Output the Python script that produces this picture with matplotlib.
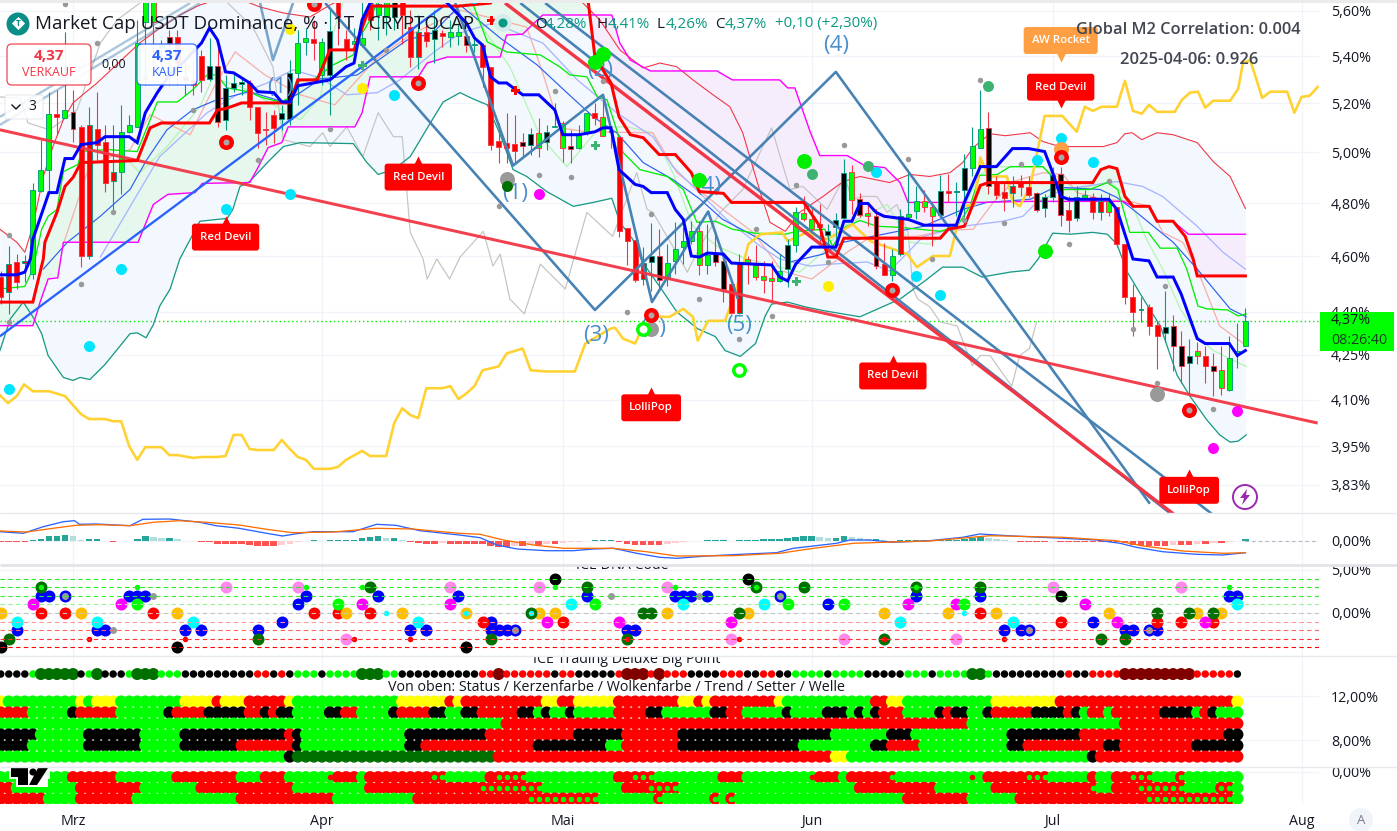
#!/usr/bin/env python3
import numpy as np
import matplotlib
matplotlib.use('Agg')
import matplotlib.pyplot as plt
from matplotlib.patches import Circle, FancyBboxPatch, Polygon, Rectangle
from matplotlib.ticker import NullFormatter, NullLocator

plt.rcParams['font.family'] = ['Open Sans', 'DejaVu Sans']

# candles, one per day, day 0 = 1 March
candle_day = list(range(-9, 147))
candle_top = [4.524,4.571,4.579,4.583,4.853,4.931,5.157,5.157,5.173,5.165,
  5.103,5.111,5.095,5.043,4.923,5.083,5.111,5.458,5.645,5.645,
  5.45,5.484,5.484,5.312,5.299,5.401,5.359,5.359,5.265,5.286,
  5.291,5.286,5.186,5.095,5.153,5.161,5.329,5.458,5.480,5.476,
  5.463,5.511,5.64,5.476,5.467,5.480,5.63,5.63,5.64,5.64,
  5.64,5.528,5.506,5.506,5.515,5.502,5.506,5.506,5.489,5.454,
  5.449,5.355,5.047,5.039,5.035,5.043,5.075,5.079,5.083,5.107,
  5.119,5.027,5.071,5.161,5.161,5.144,5.091,5.063,4.705,4.659,
  4.575,4.601,4.601,4.575,4.626,4.656,4.693,4.693,4.605,4.608,
  4.583,4.499,4.579,4.590,4.568,4.528,4.520,4.546,4.641,4.765,
  4.761,4.738,4.719,4.693,4.734,4.919,4.923,4.815,4.761,4.750,
  4.571,4.601,4.750,4.757,4.807,4.807,4.784,4.849,4.849,4.849,
  4.939,5.027,5.095,5.099,4.880,4.845,4.865,4.880,4.861,4.838,
  4.822,4.908,4.915,4.772,4.822,4.830,4.822,4.807,4.807,4.784,
  4.645,4.452,4.410,4.417,4.354,4.347,4.350,4.282,4.245,4.262,
  4.248,4.214,4.198,4.241,4.265,4.368]
candle_bot = [4.452,4.470,4.506,4.575,4.535,4.849,4.931,5.144,5.140,5.095,
  4.601,4.601,5.031,4.880,4.888,4.923,5.083,5.103,5.552,5.552,
  5.44,5.458,5.371,5.299,5.278,5.299,5.303,5.124,5.132,5.265,
  5.282,5.186,5.079,5.091,5.099,5.136,5.136,5.329,5.463,5.458,
  5.320,5.320,5.573,5.428,5.454,5.449,5.56,5.58,5.573,5.573,
  5.58,5.397,5.397,5.467,5.476,5.489,5.484,5.489,5.449,5.449,
  5.355,5.031,5.023,5.019,5.007,5.027,5.031,5.019,5.043,5.103,
  5.019,5.015,5.019,5.079,5.140,5.067,5.083,4.693,4.656,4.513,
  4.517,4.579,4.513,4.517,4.583,4.634,4.656,4.568,4.568,4.579,
  4.481,4.396,4.396,4.575,4.524,4.513,4.510,4.510,4.553,4.641,
  4.738,4.701,4.708,4.678,4.708,4.742,4.811,4.753,4.750,4.564,
  4.531,4.531,4.608,4.746,4.769,4.784,4.750,4.753,4.838,4.845,
  4.853,4.939,5.019,4.865,4.830,4.819,4.838,4.861,4.830,4.772,
  4.780,4.822,4.753,4.734,4.742,4.819,4.765,4.765,4.765,4.645,
  4.452,4.399,4.406,4.350,4.316,4.326,4.279,4.211,4.224,4.248,
  4.214,4.194,4.138,4.131,4.255,4.282]
candle_hi = [4.546,4.637,4.608,4.605,4.880,5.051,5.249,5.257,5.506,5.257,
  5.111,5.186,5.249,5.111,5.111,5.194,5.153,5.560,5.66,5.66,
  5.47,5.515,5.515,5.384,5.384,5.428,5.48,5.454,5.320,5.329,
  5.307,5.299,5.186,5.165,5.173,5.194,5.384,5.515,5.524,5.560,
  5.480,5.604,5.66,5.515,5.524,5.64,5.66,5.66,5.66,5.66,
  5.66,5.604,5.582,5.56,5.604,5.515,5.56,5.537,5.502,5.493,
  5.449,5.355,5.119,5.161,5.153,5.079,5.099,5.140,5.111,5.202,
  5.128,5.091,5.111,5.161,5.202,5.236,5.099,5.063,4.705,4.659,
  4.634,4.723,4.701,4.645,4.727,4.708,4.731,4.731,4.719,4.689,
  4.608,4.499,4.608,4.601,4.641,4.583,4.583,4.608,4.663,4.784,
  4.826,4.788,4.795,4.719,4.761,4.975,4.951,4.838,4.803,4.776,
  4.648,4.626,4.776,4.923,4.865,4.853,4.803,4.908,4.915,4.884,
  4.995,5.103,5.257,5.165,4.904,4.884,4.904,4.908,4.904,4.845,
  4.834,4.943,4.943,4.826,4.865,4.853,4.841,4.834,4.841,4.784,
  4.645,4.499,4.452,4.427,4.368,4.474,4.389,4.333,4.303,4.296,
  4.279,4.258,4.279,4.316,4.361,4.413]
candle_lo = [4.427,4.392,4.481,4.506,4.517,4.845,4.834,5.071,5.140,5.043,
  4.560,4.590,4.971,4.845,4.761,4.834,5.079,5.103,5.278,5.342,
  5.35,5.278,5.278,5.236,5.236,5.249,5.295,5.103,5.091,5.249,
  5.236,5.132,5.019,5.031,5.039,5.091,5.111,5.194,5.406,5.384,
  5.278,5.153,5.449,5.384,5.449,5.441,5.515,5.471,5.493,5.515,
  5.454,5.355,5.346,5.441,5.371,5.441,5.441,5.449,5.419,5.419,
  5.269,5.011,4.959,4.959,4.959,4.983,4.991,4.983,5.011,5.103,
  4.963,4.959,5.015,5.071,5.111,5.067,5.019,4.671,4.568,4.506,
  4.495,4.474,4.474,4.492,4.535,4.571,4.645,4.531,4.535,4.564,
  4.434,4.392,4.392,4.499,4.513,4.467,4.438,4.506,4.488,4.615,
  4.731,4.693,4.645,4.634,4.652,4.738,4.757,4.746,4.712,4.553,
  4.531,4.510,4.601,4.738,4.738,4.765,4.637,4.750,4.803,4.750,
  4.746,4.904,5.019,4.834,4.815,4.769,4.784,4.826,4.822,4.765,
  4.746,4.803,4.712,4.689,4.731,4.815,4.738,4.734,4.750,4.634,
  4.427,4.316,4.364,4.320,4.204,4.296,4.194,4.154,4.112,4.218,
  4.154,4.112,4.115,4.128,4.207,4.282]
candle_fill = ('rrrrgggrgk' 'rrrrrggggg' 'gkrrrrkkkk' 'krrrrkkggr' 'gkrrggrggk'
  'rrrrkrggkg' 'rrrrrkkgkg' 'gkggrgrrrr' 'rkkggggggk' 'krrgggggkg'
  'ggrkkkgkgk' 'rgrggggkrk' 'kggkrrrrrk' 'kkkrkgrrgr' 'rrrrrkkkkg' 'rkgggg')
candle_wick = ('rtrttttrtr' 'rtrrtttttr' 'trrtrrtrtt' 'trrrrttttr' 'ttrrttrttt'
  'rrtrtrttrt' 'rrrrrrtrtt' 'rrttrrrrrr' 'ttrttttrtr' 'rrtrrrrttt'
  'rrrtttrrrr' 'rttttrrtrt' 'tttrrrtrrr' 'ttrrttrtrr' 'rrtrrtrrtr' 'rrrttt')

# thick lines
blue_day = [-9.1,-7,-6,-5.3,-5,-3,-2,-1,0,1,3,4,7,8,9,10.5,12,14,16,17,18,19,20,22,23,25,26,27,28,32,34,35,36,37,39.5,45.7,49,50,51,52,53,54,56,58,60,61,63,65,66,67,68,70,71,72,74,75,76,77,78,79,81,82,87,88,89,90,92,95,96,97,98,99,100,101,104,106,110,111,113,115,117,119,121,122,123,124,129,130,132,134,135,137,138,140,141,144,145,146]
blue_val = [4.532,4.532,4.542,4.59,4.663,4.841,4.841,4.975,4.975,5.031,5.039,5.063,5.063,5.039,5.161,5.245,5.320,5.384,5.458,5.524,5.471,5.333,5.329,5.286,5.249,5.245,5.206,5.206,5.274,5.299,5.355,5.371,5.560,5.636,5.67,5.67,5.546,5.480,5.449,5.312,5.286,5.286,5.236,5.236,5.173,5.071,5.071,5.083,5.099,5.099,4.931,4.873,4.865,4.841,4.841,4.776,4.738,4.601,4.597,4.612,4.608,4.575,4.568,4.524,4.510,4.571,4.634,4.634,4.731,4.731,4.799,4.799,4.765,4.750,4.738,4.716,4.716,4.803,4.943,4.943,5.015,5.015,5.003,4.919,4.826,4.815,4.815,4.776,4.590,4.583,4.524,4.524,4.463,4.306,4.289,4.289,4.248,4.265]
red_day = [-9.1,-5,-3.7,-3.5,-2,-1,0,1,8,9.6,11,17,18,19,21,27,28,30.4,32,35,37,48,52,53,64,65,67,68,69.4,71,73,75,77,78,81,82,91,93,94,95,96,108,109,111,113,114,127,128,129,130,131,132,134,135,137,138.5,139.5,140,146]
red_val = [4.434,4.434,4.59,4.652,4.765,4.865,4.900,4.959,4.967,5.099,5.119,5.119,5.173,5.178,5.202,5.202,5.299,5.299,5.428,5.428,5.622,5.622,5.636,5.69,5.69,5.397,5.286,5.144,5.071,5.059,4.991,4.991,4.919,4.845,4.838,4.803,4.803,4.712,4.597,4.597,4.667,4.667,4.701,4.712,4.869,4.880,4.880,4.931,4.943,4.935,4.826,4.788,4.788,4.731,4.731,4.674,4.590,4.528,4.528]

# thin lines
upper_day = [-9.1,-7,-6,-5,-3.7,-2.5,-1.2,0,1.2,3,5,8.3,10.5,13.3,15.8,19.6,23.3,26.2,29.5,32,34.5,61.9,63.5,65.6,68.1,71,73.1,75.2,77.2,79.7,81.8,83.4,85.6,86.8,88.7,90.5,93.4,95.9,98,101.7,104.2,106.7,109.2,110.8,112.1,114.2,116.1,119.2,120.8,122.9,128.3,130,131,131.9,133.1,135,137,140,142,144.1,146]
upper_val = [4.701,4.652,4.615,4.712,4.904,5.023,5.132,5.202,5.236,5.286,5.350,5.458,5.515,5.582,5.627,5.67,5.618,5.591,5.573,5.627,5.67,5.67,5.636,5.560,5.428,5.350,5.371,5.355,5.299,5.236,5.186,5.079,4.841,4.727,4.693,4.765,4.826,4.884,4.904,4.880,4.912,4.904,4.919,4.959,5.019,5.075,5.067,5.079,5.043,5.023,5.023,5.039,5.075,5.079,5.051,5.079,5.071,5.039,4.963,4.904,4.780]
lower_day = [-9.1,-7.8,-6.2,-5,-3.9,-3.1,-1.2,0,0.9,2.1,4,7.1,8,9.1,10,10.8,12.1,13.3,15.8,19.2,19.9,20.8,22,24.2,26.2,28.3,34.9,36.6,38,39.9,42,44.5,46.1,48.2,49.8,51.6,53.2,54.8,56.5,59,62.3,64.8,67.1,68.1,69.7,70.9,73.1,75.2,77.8,80,81.2,83.1,85,86.2,87,89,91.2,93.6,98,103,105.9,108.3,110.8,113.2,116.7,119.1,120.2,122,124.2,127,128.8,130,131.3,133.3,135.4,137.5,139.1,141.2,142.8,144.1,145.1,146.1]
lower_val = [4.265,4.375,4.434,4.382,4.323,4.248,4.174,4.164,4.174,4.167,4.218,4.323,4.326,4.309,4.354,4.420,4.481,4.590,4.731,4.742,4.776,4.865,4.884,4.959,5.023,5.039,5.035,4.959,4.912,4.931,4.983,5.119,5.206,5.245,5.219,5.194,5.071,4.931,4.904,4.845,4.788,4.803,4.819,4.727,4.663,4.579,4.488,4.399,4.340,4.313,4.265,4.245,4.289,4.385,4.427,4.434,4.417,4.403,4.382,4.445,4.506,4.560,4.560,4.524,4.542,4.549,4.590,4.686,4.682,4.689,4.682,4.645,4.542,4.445,4.350,4.181,4.112,4.034,3.986,3.963,3.966,3.986]
span_day = [-9.1,-5,-4.1,-3.1,-1.9,-1.2,8.1,10,11.8,15.2,16.1,22,22.9,24.3,26,26.8,35.1,36,37,43,44.1,46.6,53.2,54,56,56.9,58.5,67.1,68.1,69.4,71.9,80.2,82.1,88,89,89.9,91.8,93,96.4,98.6,101.1,103,104,112.7,119.2,130.8,132,134.1,135.1,137,138.9,146]
span_val = [4.351,4.351,4.434,4.517,4.521,4.652,4.652,4.795,4.834,4.841,4.877,4.880,4.931,5.019,5.039,5.103,5.103,5.161,5.312,5.312,5.371,5.397,5.397,5.493,5.497,5.528,5.582,5.582,5.458,5.384,5.337,5.337,5.299,5.299,5.265,5.265,5.083,4.987,4.987,4.947,4.939,4.880,4.803,4.803,4.807,4.807,4.788,4.788,4.731,4.731,4.682,4.682]
green_day = [-9.1,-6,-5,-3.9,-3.1,-2,-1.2,0.6,1.1,4.2,8,9.2,10.5,13,14.9,16.7,17.9,19.2,21.8,23.7,25.8,27,28.3,29.9,32.4,34.9,35.7,37,38.2,49.4,51.6,54,58.2,60.6,61.9,64,65.3,66.5,67.7,68.5,70.6,74,76,77.7,80,82.1,84.9,88.7,90.2,93.6,94.6,96.1,98,100.1,103,108,110.1,111.7,112.9,115.1,116.7,120.8,121.9,123.2,126.6,128.8,130.1,131.6,133.9,135.4,137.5,138.7,140.1,141.2,143.8,145.1,146.1]
green_val = [4.481,4.49,4.553,4.701,4.750,4.776,4.923,4.951,5.003,5.011,5.003,5.099,5.206,5.206,5.257,5.320,5.320,5.265,5.249,5.223,5.206,5.223,5.299,5.299,5.363,5.406,5.484,5.560,5.67,5.67,5.463,5.419,5.406,5.355,5.320,5.312,5.227,5.215,5.091,4.999,4.931,4.904,4.853,4.727,4.731,4.701,4.686,4.682,4.693,4.701,4.637,4.708,4.734,4.712,4.708,4.693,4.712,4.788,4.908,4.912,4.943,4.943,4.904,4.853,4.853,4.880,4.853,4.689,4.689,4.630,4.630,4.553,4.420,4.410,4.406,4.385,4.392]
ma_day = [-3.7,-0.7,3.4,7.1,9.2,11.7,14.9,17.9,22,26.2,28.3,30.8,35.4,41.6,44.8,48.2,53.2,57.8,61.5,64.8,67.7,71,74.7,78.1,80.9,85.6,89.3,93.4,95.9,105.9,110.8,113.8,119.2,121.7,123.3,127.9,130,132,135,137,140,144.1,146.1]
ma_val = [4.553,4.652,4.750,4.853,4.971,5.091,5.173,5.215,5.249,5.206,5.245,5.303,5.320,5.471,5.502,5.627,5.480,5.363,5.245,5.144,5.079,4.959,4.892,4.815,4.738,4.663,4.579,4.608,4.652,4.712,4.776,4.803,4.815,4.853,4.861,4.853,4.822,4.776,4.701,4.652,4.553,4.410,4.382]
peri_day = [3.4,10.8,16.7,20.4,24.2,27.4,30.8,34.1,37.9,40.7,44.5,48.2,52.3,58.5,62.8,67.7,72.2,74.7,81.4,85.6,88,91.8,94.3,98.9,101.7,105.9,110.8,115.8,118.3,120,123.3,130,133.2,135.7,140,143.2,146]
peri_val = [4.597,4.983,5.161,5.236,5.286,5.342,5.307,5.236,5.245,5.299,5.406,5.502,5.546,5.458,5.299,5.161,5.063,4.943,4.738,4.637,4.590,4.564,4.571,4.579,4.546,4.674,4.712,4.731,4.750,4.803,4.853,4.884,4.865,4.826,4.712,4.615,4.553]
pink_day = [-1.2,2.1,7.1,9.6,14.6,17.7,20.2,23.9,28.3,32.6,37.6,42,48.2,56.5,58.5,60.6,64,72.2,75.2,81.4,84.7,88.3,92,96.4,99.3,105.1,108.8,112.1,114.6,117.1,120.8,123.3,125,128.3,131.6,134.1,135.7,138.2,140,142.8,146.1]
pink_val = [4.645,4.951,5.011,5.153,5.071,5.278,5.419,5.320,5.236,5.194,5.384,5.493,5.604,5.528,5.329,5.099,5.083,5.079,4.919,4.765,4.689,4.546,4.517,4.615,4.671,4.674,4.697,4.701,4.803,4.884,4.919,4.912,4.841,4.815,4.807,4.788,4.689,4.652,4.553,4.350,4.282]
mint_day = [5.9,8.3,11.7,15.8,17.4,21.2,28.3,30.8,32.4,33.9,48.2,54.4,58.2,61.5,65.6,69,72.2,74.7,77.2,80.2,83.9,90.5,93.4,95.9,101.4,104.2,106.7,110.1,112.9,115.1,120.8,125,129.1,131.6,133.7,135.7,137.9,140.3,142,146.1]
mint_val = [5.0,4.919,5.023,5.186,5.307,5.265,5.132,5.227,5.502,5.67,5.67,5.355,5.063,4.943,5.103,5.103,5.079,4.919,4.712,4.637,4.590,4.542,4.615,4.712,4.795,4.652,4.645,4.727,4.912,4.943,4.939,4.853,4.884,4.815,4.663,4.553,4.410,4.306,4.265,4.211]
grey_day = [-9.1,-6.6,-5.6,-2.9,0.5,3.4,5.5,9.6,18.3,22.4,24.9,26.2,29.5,31.1,32,34.1,36.1,38,39.9,41,42,43.6,44.1,45.3,46.9,48.2,51.1,52.3,53.2,54.4,56.2,58.2,61.3,64,67.2,70.2,71.5,72.2,74.7,76.5,78.1,80.6,83.4,87,89.3,90.9,93.9,96.1,97,98.4,100.1,101.4,102.6,104,104.6,105.2,106.7,108,110.1,112,113,114.2,116.9,117.9,119.1,120]
grey_val = [5.227,5.223,5.119,5.091,5.173,5.458,5.560,5.67,5.67,5.528,5.355,5.051,5.023,5.079,5.023,5.103,4.983,5.161,5.063,5.063,4.689,4.590,4.517,4.590,4.517,4.597,4.693,4.564,4.608,4.445,4.392,4.571,4.481,4.765,4.674,4.919,4.776,4.765,4.637,4.542,4.637,4.765,4.853,5.099,4.853,4.865,4.776,4.904,4.815,4.826,4.826,4.765,4.795,4.689,4.481,4.445,4.417,4.364,4.350,4.214,4.248,4.248,4.145,4.248,4.272,4.364]
m2_day = [-9.1,-8.1,-7,-6.1,-5,-3,-1,1,2,4,5,6,7,8,9,11,12,13,15,16,18,19,20,21,22,23,25,26,27,28,29,30,32,33,34,36,37,39,40,41,42,43,44,46,47,48,49,50,51,53,54,56,57,59,61,62.5,63.8,66.9,67.5,68.5,70,71,72.9,74.3,76,77.2,77.8,79.1,81.2,82.1,83.1,84.1,85.6,88.3,89,91.4,93.9,97.1,99.3,103.9,105.1,107.1,109.2,110.7,112.3,113,114,116.3,117,117.9,119.2,121,123.2,125,126,127,128.1,130,131,132,133.1,134,135,137.2,138.1,139.1,140.1,141,142,144.1,145.1,145.7,146.6,148.1,149.1,151.2,152.1,153,154,155]
m2_val = [4.115,4.089,4.112,4.151,4.128,4.128,4.112,4.053,4.037,4.037,4.030,4.030,3.950,3.907,3.947,3.947,3.922,3.922,3.913,3.916,3.916,3.919,3.986,3.986,3.941,3.938,3.938,3.970,3.941,3.916,3.907,3.879,3.879,3.885,3.907,3.935,3.919,3.919,4.024,4.072,4.050,4.040,4.138,4.138,4.145,4.102,4.121,4.145,4.198,4.211,4.255,4.272,4.198,4.194,4.194,4.194,4.289,4.340,4.344,4.306,4.289,4.350,4.382,4.382,4.410,4.382,4.299,4.368,4.368,4.438,4.528,4.645,4.682,4.689,4.656,4.689,4.663,4.719,4.656,4.608,4.560,4.601,4.601,4.788,4.795,4.979,4.904,4.904,4.807,4.788,4.865,5.148,5.148,5.083,5.186,5.169,5.186,5.186,5.295,5.169,5.157,5.194,5.165,5.165,5.215,5.245,5.249,5.182,5.211,5.211,5.261,5.371,5.384,5.223,5.249,5.249,5.161,5.227,5.232,5.269]

# drawn trend lines: (day, value) pairs
trend_red = [(-9.1,5.091),(155,4.024)]
trend_red_down = [(53.8,5.636),(137.1,3.74)]
trend_blue = [(-9.1,4.314),(46.3,5.627)]
wave_a = [(31.4,5.636),(65,4.406),(95,5.333),(134.1,3.772)]
wave_b = [(47.6,5.636),(54.8,4.947),(66,5.236),(72.1,4.434),(79.1,4.768),(82.8,4.445)]
wave_v = [(23.3,5.636),(24.9,5.384),(27.4,5.636)]
chan_a = [(58.8,5.636),(141.9,3.74)]
chan_b = [(55.7,5.636),(136.8,3.74)]
chan_c = [(-9.1,5.144),(14.6,5.636)]
chan_d = [(-9.1,5.111),(15.8,5.636)]

# main panel signals
sig_cyan = [(-8,4.135),(2,4.28),(6,4.555),(19,4.776),(27,4.834),(40,5.236),(50,5.66),(100,4.923),(105,4.528),(108,4.459),(120,4.971),(123,5.059),(127,4.963)]
sig_yellow = [(27,5.52),(36,5.265),(94,4.49)]
sig_magenta = [(58,4.834),(142,3.945),(145,4.062)]
sig_lime = [(65,5.376),(66,5.41),(78,4.889),(91,4.967),(121,4.62)]
sig_sea = [(92,4.912),(99,4.947),(114,5.274)]
sig_small = [(-1,5.63),(3,5.458),(9,5.31),(15,5.173),(5,4.768),(23,4.97),(32,5.095),(39,5.428),(-8,4.68),(-8,4.365),(1,4.5),(66,5.295),(60,5.254),(58,4.908),(62,4.9),(72,4.76),(53,4.79),(69,4.4),(78,4.445),(87,4.385),(83,4.305),(85,4.7),(90,4.87),(94,4.58),(96,5.03),(104,4.975),(107,4.59),(111,4.735),(113,5.299),(118,4.955),(116,4.725),(124,4.645),(129,4.888),(136,4.49),(132,4.34),(135,4.155),(142,4.07)]
sig_big_grey = [(54,4.895),(72,4.34),(135,4.12)]
sig_ring = [(19,5.04),(43,5.285),(30,5.63),(72,4.39),(102,4.478),(123,4.98),(139,4.065)]
sig_lime_ring = [(71,4.34),(83,4.2)]
sig_plus_green = [(36,5.363),(65,5.029),(90,4.51)]
sig_plus_red = [(55,5.255),(52,5.56)]

wave_text = ['(1)', '(2)', '(3)', '(4)', '(4)', '(5)', '(1)', '(1)']
wave_text_day = [55, 65.6, 65.1, 95, 79.1, 83, 72.2, 25.8]
wave_text_val = [4.838, 5.34, 4.316, 5.445, 4.865, 4.350, 4.340, 5.265]

tag_text = ['Red Devil', 'Red Devil', 'Red Devil', 'LolliPop', 'LolliPop', 'Red Devil', 'AW Rocket']
tag_day = [19, 43, 102.1, 72, 139, 123, 123]
tag_val = [4.745, 4.979, 4.245, 4.138, 3.873, 5.186, 5.384]
tag_up = [True, True, True, True, True, False, False]
tag_colour = ['#ff0000', '#ff0000', '#ff0000', '#ff0000', '#ff0000', '#ff0000', '#ff9f43']

price_ticks = [5.6, 5.4, 5.2, 5.0, 4.8, 4.6, 4.4, 4.25, 4.1, 3.95, 3.83]
last_price = 4.366

# oscillator
macd_hist = [-1,-1,-1,-1,1,2,5,5,6,5,1,2,2,-.3,-1,0,0,2,5,4,3,3,2,-.3,-.3,-.5,-1,-3,-3,-3,-3,-4,-5,-5,-5,-4,-3,-1,0,1,0,1,1,1,1,3,4,5,3,3,1,-1,-2,-3,-3,-2,-3,-3,
  -3,-3,-3,-5,-6,-6,-5,-5,-4,-4,-3,-3,-2,-1,-.5,0,1,1,1,-1,-3,-4,-4,-4,-4,-3,-2,-1,0,0,1,1,1,0,1,1,1,2,2,2,3,4,5,5,4,3,3,5,4,3,2,2,1,-.5,1,1,1,1,
  1,1,1,1,2,3,4,3,2,1,0,-.5,-.5,-1,-1,-.3,-1,-1,-1,-1,-1,-1,-1,-1,-2,-4,-5,-5,-5,-5,-4,-4,-4,-3,-3,-2,-2,-1,0,2]
macd_day = [-9.1,-6.2,-3.7,-1.2,.2,.8,2.9,7.1,8.7,12,15.8,17.8,20.7,24.1,26.1,28.2,29.9,34.9,37.8,40.2,43.2,48.1,50.7,52.8,55.3,59,62.3,64.8,67.3,70.2,73.1,75.2,78.9,83.9,87.6,89.7,95.1,96.7,99.2,102.1,106.7,110.8,112.9,117.1,123.3,127.4,130.4,132.4,135.7,139.9,143.2,146]
macd_val = [9.3,7.7,14.3,19.3,20.3,16.7,17,15.3,21.7,22,18.7,15.3,12.7,7.7,5,7.7,9.3,9.3,16.7,15.7,10.3,6,3.3,-4,-8,-9.7,-9.7,-8,-7.3,-12.3,-16.3,-17.3,-15,-13,-11.7,-7.3,-2.3,1,1,-1.3,.3,3.7,7,5,2.7,1,-2.3,-6.3,-10.7,-13.3,-14,-11.7]
signal_day = [-9.1,-5.8,-2.5,.4,3.3,7.1,10,13.3,16.6,20.7,24.1,27.4,32.4,37.8,42.3,48.1,50.7,53.6,57.3,61.1,67.3,71.4,75.2,82.2,88,92.2,97.2,102.1,106.7,114.2,123.3,129.9,133.3,138.2,143.2,146]
signal_val = [10,9,12.7,15.7,16.3,15.3,18.7,20.3,18.7,16,11.7,8.3,9,12.7,12,7.7,6.7,1,-4,-7.3,-7.3,-10.7,-15,-14.7,-12.3,-7.3,-2.3,-1,0,5.3,3.7,.3,-5,-10,-12.3,-11.7]

# ICE DNA Code dots: (day, level)
dna_blue = [(-7,-2),(-4,2),(-3,2),(3,-2),(4,-2),(7,2),(8,2),(9,2),(14,-2),(16,-2),(23,-2),(26,-1),(28,1),(29,2),(38,2),(42,-2),(44,-2),(48,2),(52,-1),(52,-2),(53,-2),(54,-2),(64,2),(69,-2),(70,-2),(75,2),(76,2),(77,2),(79,2),(94,1),(105,2),(113,2),(116,-2),(118,-2),(127,-1),(131,-2),(132,-2),(135,-2),(144,2),(145,2)]
dna_blue_ring = [(-1,2),(55,-2),(88,2),(119,-2),(134,-2)]
dna_red = [(-4,0),(-1,0),(10,0),(30,0),(33,0),(37,0),(51,-1),(61,-1),(113,0),(123,-1),(135,-1),(138,-1),(142,-1)]
dna_orange = [(-9,0),(1,0),(13,0),(34,0),(41,0),(49,0),(58,0),(60,0),(74,0),(84,0),(101,0),(109,0),(115,0),(129,0),(140,0),(143,0)]
dna_cyan = [(-7,-1),(3,-1),(15,-1),(43,-1),(62,1),(76,1),(86,1),(103,-1),(117,-1),(145,1)]
dna_magenta = [(-5,1),(6,1),(36,1),(47,1),(59,-1),(68,-1),(82,-1),(104,1),(110,1),(126,1),(130,-1),(141,-1)]
dna_pink = [(19,3),(28,3),(34,-3),(47,3),(58,3),(74,3),(82,-3),(96,-3),(110,-3),(122,3),(138,3)]
dna_dkgreen = [(-8,-3),(23,-3),(37,3),(52,-3),(64,3),(71,0),(72,0),(83,0),(91,3),(113,3),(128,-3),(131,-3),(135,0),(139,0),(142,0)]
dna_dk_lime = [(-4,3),(85,3),(105,3)]
dna_dk_red = [(69,-3),(101,-3)]
dna_dk_cyan = [(57,0)]
dna_lime = [(8,1),(33,1),(65,1),(89,1),(96,1),(111,1)]
dna_black = [(-9,-4),(13,-4),(49,-4),(60,4),(84,4),(123,2)]
dna_small_lime = [(8,3),(29,3),(36,3),(60,3),(75,3),(144,3)]
dna_small_red = [(2,-3),(14,-3),(35,-3),(42,-3),(83,-3),(116,-3)]
dna_small_grey = [(5,-2),(10,2),(67,2),(78,2)]
dna_small_cyan = [(39,0),(111,0)]
dna_levels = [4, 3, 2, 1, 0, -1, -2, -3, -4]
dna_level_colour = ['#22ee22', '#22ee22', '#33ee33', '#99f099', '#c4c4c4', '#ff9999', '#ff6666', '#ff3333', '#ff0000']

# dot rows, written as colour + run length, first dot on day -9
big_point = 'k4 g1 D5 k1 g1 D1 k3 g1 D3 g3 k9 r2 k1 r1 k1 g3 k1 g4 D3 g2 k10 r2 M1 r6 k1 r2 k5 r1 M3 r1 M1 r3 k4 r3 k2 r2 k2 g4 k1 g4 k5 g3 k1 g4 D2 g1 k9 r1 k2 r4 M9 r5 k1'
row_status = 'y1 g9 y1 g1 y3 g8 y4 r1 y3 r5 y1 g13 y6 r1 y1 r10 y2 r2 y5 r8 y2 r1 y1 r8 y1 g11 r2 y2 g11 y8 r22 y1'
row_candle = 'r4 g5 k1 r5 g6 k1 r4 k5 r2 k1 r1 k2 g4 k2 r2 g4 k1 r4 k2 g2 k2 r5 k2 g1 k1 g2 k1 g5 r4 k2 g6 k2 r2 g5 k1 g4 k3 g1 k1 g1 k1 r3 g4 k1 r1 k2 g2 k1 r5 k4 r1 k1 g1 r2 g1 r6 k4 g1 r1 k1 g3'
row_cloud = 'g63 r58 g19 r15'
row_trend = 'k5 g6 k7 g5 k13 r1 k1 g13 k10 r11 k6 r7 k19 g7 k3 g12 k9 r18 k2'
row_setter = 'k4 g7 k7 g5 k7 r7 k1 g13 k2 r14 k9 g2 r7 k15 g9 k2 r4 g11 k2 r10 k2 r9 k6'
row_wave = 'g36 k1 D25 r42 y2 g30 k1 r18'
low_a = 'g9 r6 g7 r8 g3 r3 g6 r3 g1 r10 g5 r5 g11 r5 g8 r3 g9 r3 g1 r6 g11 r8 g5 r1 g2 r5 g3 r1 g7'
low_b = 'r2 g8 r8 g7 r12 g9 r22 g10 r7 g22 r10 g7 r13 g2 r9 g4 r2 g1'
low_c = 'r6 g4 r7 g13 r12 g10 r23 g7 r1 g6 r1 g1 r1 g21 r8 g6 r27 g1'
low_a_lime = [45,46,53,54,55,56,70,71,72,102,119,120,121,132,133,134,138]
low_a_red = [32,92,112]
low_b_lime = [51,52,53,54,55,56,57,58,72,73,74,75,127,133,134,135,136,137,138,143,144]
low_c_lime = [57,58,59,60,61,62,63,64,65,73,80,82,134,135,136,137,138,139,140,141,142,143,144]

month_days = [0, 31, 61, 92, 122, 153]
month_names = ['Mrz', 'Apr', 'Mai', 'Jun', 'Jul', 'Aug']

W, H, PLOT_W = 1397, 831, 1319
TEAL, RED = '#089981', '#f23645'
GRID = '#f0f3fa'
TXT = '#131722'
DOT = {'g': '#00ff00', 'r': '#ff0000', 'k': '#000000', 'y': '#ffff00', 'D': '#007000', 'M': '#800000'}


def px(v):
  return v * 0.72


def dots(ax, pts, colour, d, z=4):
  xs = [p[0] for p in pts]
  ys = [p[1] for p in pts]
  ax.scatter(xs, ys, s=px(d) ** 2, c=colour, linewidths=0, zorder=z)


def panel(top, bottom):
  ax = fig.add_axes([0, 1 - bottom / H, PLOT_W / W, (bottom - top) / H])
  ax.set_xlim(-73 / 8.03, (PLOT_W - 73) / 8.03)
  for s in ax.spines.values():
    s.set_visible(False)
  ax.set_xticks(month_days)
  ax.xaxis.set_tick_params(length=0, labelbottom=False)
  ax.grid(True, color=GRID, lw=0.9, zorder=0)
  ax.set_axisbelow(True)
  ax.yaxis.tick_right()
  ax.yaxis.set_tick_params(length=0, labelsize=10.3, labelcolor=TXT, pad=8.5)
  return ax


def pct(v):
  return f'{v:.2f}'.replace('.', ',') + '%'


def expand(rle):
  out = []
  for run in rle.split():
    out += [DOT[run[0]]] * int(run[1:])
  return out


def dot_row(ax, rle, y, d=12.2):
  cols = expand(rle)
  ax.scatter(np.arange(-9, -9 + len(cols)), [y] * len(cols), s=px(d) ** 2, c=cols, linewidths=0, zorder=3)


fig = plt.figure(figsize=(W / 100, H / 100), dpi=100, facecolor='white')

# main price panel
ax = panel(3, 513)
ax.set_yscale('log')
ax.set_ylim(3.744, 5.636)
ax.yaxis.set_major_locator(matplotlib.ticker.FixedLocator(price_ticks))
ax.set_yticklabels([pct(v) for v in price_ticks])
ax.yaxis.set_minor_locator(NullLocator())
ax.yaxis.set_minor_formatter(NullFormatter())

grid_day = np.linspace(-9.1, 146, 1500)
up_i = np.interp(grid_day, upper_day, upper_val)
lo_i = np.interp(grid_day, lower_day, lower_val)
span_i = np.interp(grid_day, span_day, span_val)
red_i = np.interp(grid_day, red_day, red_val)
ax.fill_between(grid_day, lo_i, up_i, color='#f2f8fe', lw=0, zorder=1)
ax.fill_between(grid_day, span_i, red_i, where=red_i >= span_i, color='#e6f7ee', lw=0, zorder=1.1)
ax.fill_between(grid_day, span_i, red_i, where=red_i < span_i, color='#f5edfc', lw=0, zorder=1.1)

ax.axhline(last_price, color='#00ee00', lw=1, ls=(0, (1, 2)), zorder=2)
ax.plot(grey_day, grey_val, color='#c4c4c4', lw=px(1.2), zorder=2)
ax.plot(mint_day, mint_val, color='#b5f5b5', lw=px(1.3), zorder=2)
ax.plot(pink_day, pink_val, color='#f8b0aa', lw=px(1.3), zorder=2)
ax.plot(peri_day, peri_val, color='#aab4ff', lw=px(1.3), zorder=2)
ax.plot(ma_day, ma_val, color='#2f62f0', lw=px(1.2), zorder=2)
ax.plot(upper_day, upper_val, color='#f23645', lw=px(1.1), zorder=2)
ax.plot(lower_day, lower_val, color='#1b9a85', lw=px(1.3), zorder=2)
ax.plot(span_day, span_val, color='#ff00ff', lw=px(1.4), zorder=2.1)
ax.plot(green_day, green_val, color='#00ee00', lw=px(1.3), zorder=2.1)
ax.plot(m2_day, m2_val, color='#ffd232', lw=px(2.6), zorder=2.2)

# candles
for i, d in enumerate(candle_day):
  wc = TEAL if candle_wick[i] == 't' else RED
  ax.vlines(d, candle_lo[i], candle_hi[i], color=wc, lw=px(1.1), zorder=3)
  ax.bar(d, candle_top[i] - candle_bot[i], bottom=candle_bot[i], width=0.62,
         color=DOT[candle_fill[i]], edgecolor=wc, lw=px(0.9), zorder=3.1)

for line, c, w, a in [(trend_blue, '#2962ff', 2.3, 1), (wave_a, '#4682b4', 2.6, 1), (wave_b, '#4682b4', 2.6, 1),
                      (wave_v, '#4682b4', 2.6, 0.7), (chan_a, '#4682b4', 2.6, 1), (chan_b, '#4682b4', 2.6, 1),
                      (chan_c, '#4682b4', 2.4, 0.45), (chan_d, '#4682b4', 2.4, 0.45),
                      (trend_red, '#f23645', 3, 0.95), (trend_red_down, '#f23645', 3.4, 1)]:
  ax.plot([p[0] for p in line], [p[1] for p in line], color=c, lw=px(w), alpha=a, zorder=3.5, solid_capstyle='butt')

ax.plot(red_day, red_val, color='#ff0000', lw=px(3), zorder=4, solid_joinstyle='miter')
ax.plot(blue_day, blue_val, color='#0000ff', lw=px(3), zorder=4.1, solid_joinstyle='miter')

for t, d, v in zip(wave_text, wave_text_day, wave_text_val):
  ax.text(d, v, t, color='#4a8ecb', fontsize=16, ha='center', va='center', zorder=3.6, clip_on=True)

dots(ax, sig_small, '#999999', 5.5, 5)
dots(ax, sig_big_grey, '#999999', 15, 5)
dots(ax, sig_cyan, '#00e5ff', 11, 5)
dots(ax, sig_yellow, '#ffee00', 11, 5)
dots(ax, sig_magenta, '#ff00ff', 11, 5)
dots(ax, sig_lime, '#00ee00', 15, 5)
dots(ax, sig_sea, '#3cb371', 11, 5)
dots(ax, [(54, 4.865)], '#007000', 11, 5.1)
dots(ax, [(123, 5.015)], '#ff9f43', 15, 5)
dots(ax, sig_ring, '#ff0000', 15, 5.2)
dots(ax, sig_ring, '#a8a8a8', 6, 5.4)
dots(ax, sig_lime_ring, '#00ff00', 15, 5.2)
dots(ax, sig_lime_ring, 'white', 8, 5.3)
ax.scatter([p[0] for p in sig_plus_green], [p[1] for p in sig_plus_green], marker='P', s=px(9) ** 2, c='#3cb371', linewidths=0, zorder=5)
ax.scatter([p[0] for p in sig_plus_red], [p[1] for p in sig_plus_red], marker='P', s=px(9) ** 2, c='#ff0000', linewidths=0, zorder=5)

for t, d, v, up, c in zip(tag_text, tag_day, tag_val, tag_up, tag_colour):
  off = -17 if up else 17
  ax.annotate(t, xy=(d, v), xytext=(0, off * 0.72 * 1.15), textcoords='offset points', ha='center', va='center',
              color='white', fontsize=8.2, fontweight='semibold', zorder=7,
              bbox=dict(boxstyle='round,pad=0.7,rounding_size=0.25', fc=c, ec='none'))
  ax.scatter([d], [v], marker='^' if up else 'v', s=px(12) ** 2, c=c, linewidths=0, zorder=6.9,
             transform=ax.transData + matplotlib.transforms.ScaledTranslation(0, -4.5 / 100 if up else 4.5 / 100, fig.dpi_scale_trans))

# oscillator panel
ax2 = panel(513, 565)
ax2.set_ylim(-24, 28)
ax2.set_yticks([0])
ax2.set_yticklabels([pct(0)])
ax2.hlines(0, 146, 155.1, color='#b2b5be', lw=0.8, ls=(0, (3, 3)), zorder=1)
for i, v in enumerate(macd_hist):
  prev = macd_hist[i - 1] if i else v
  if v >= 0:
    c = '#26a69a' if v >= prev else '#b2dfdb'
  else:
    c = '#ff5252' if v <= prev else '#ffcdd2'
  ax2.bar(candle_day[i], v, width=0.82, color=c, lw=0, zorder=2)
ax2.plot(macd_day, macd_val, color='#2962ff', lw=px(1.3), zorder=3)
ax2.plot(signal_day, signal_val, color='#ff6d00', lw=px(1.3), zorder=3)

# DNA panel
ax3 = panel(565, 656)
ax3.set_ylim(-5.0, 5.58)
ax3.set_yticks([5, 0])
ax3.set_yticklabels([pct(5), pct(0)])
for lv, c in zip(dna_levels, dna_level_colour):
  ax3.axhline(lv, color=c, lw=0.8, ls=(0, (4, 3)), zorder=5)
dots(ax3, dna_blue, '#0000ff', 12)
dots(ax3, dna_blue_ring, '#0000ff', 12)
dots(ax3, dna_blue_ring, '#999999', 7, 4.1)
dots(ax3, dna_red, '#ff0000', 12)
dots(ax3, dna_orange, '#ffbf00', 12)
dots(ax3, [(49, 0)], '#00ffff', 5.5, 4.1)
dots(ax3, dna_cyan, '#00ffff', 12)
dots(ax3, dna_magenta, '#ff00ff', 12)
dots(ax3, dna_pink, '#ff88ee', 12)
dots(ax3, dna_dkgreen, '#007000', 12)
dots(ax3, dna_dk_lime, '#007000', 12)
dots(ax3, dna_dk_lime, '#00ff00', 5.5, 4.1)
dots(ax3, dna_dk_red, '#007000', 12)
dots(ax3, dna_dk_red, '#ff0000', 5.5, 4.1)
dots(ax3, dna_dk_cyan, '#007000', 12)
dots(ax3, dna_dk_cyan, '#00ffff', 5.5, 4.1)
dots(ax3, dna_lime, '#00ff00', 12)
dots(ax3, dna_black, '#000000', 12)
dots(ax3, dna_small_lime, '#00ff00', 5.5)
dots(ax3, dna_small_red, '#ff0000', 5.5)
dots(ax3, dna_small_grey, '#999999', 7)
dots(ax3, dna_small_cyan, '#00ffff', 5.5)
ax3.text(622 / PLOT_W, 5.5, 'ICE DNA Code', transform=ax3.get_yaxis_transform(), ha='center', va='center',
         fontsize=10.3, color=TXT, clip_on=True)

# status rows
ax4 = panel(656, 767)
ax4.set_ylim(5.55, 15.64)
ax4.set_yticks([12, 8])
ax4.set_yticklabels([pct(12), pct(8)])
bp = expand(big_point)
bp_size = [px(12) ** 2 if c in (DOT['D'], DOT['M']) else px(7.5) ** 2 for c in bp]
ax4.scatter(np.arange(-9, -9 + len(bp)), [14] * len(bp), s=bp_size, c=bp, linewidths=0, zorder=3)
for y, rle in zip([11.5, 10.5, 9.5, 8.5, 7.5, 6.5], [row_status, row_candle, row_cloud, row_trend, row_setter, row_wave]):
  dot_row(ax4, rle, y)
ax4.text(627 / PLOT_W, 15.3, 'ICE Trading Deluxe Big Point', transform=ax4.get_yaxis_transform(), ha='center', va='center',
         fontsize=10.3, color=TXT, clip_on=True)
ax4.text(617 / PLOT_W, 12.8, 'Von oben: Status / Kerzenfarbe / Wolkenfarbe / Trend / Setter / Welle',
         transform=ax4.get_yaxis_transform(), ha='center', va='center', fontsize=10.3, color=TXT, zorder=5)

# last rows with the date axis
ax5 = panel(767, 804)
ax5.set_ylim(-3.0, 0.45)
ax5.set_yticks([0])
ax5.set_yticklabels([pct(0)])
ax5.xaxis.set_tick_params(labelbottom=True, labelsize=10.3, labelcolor=TXT, pad=7)
ax5.set_xticks(month_days)
ax5.set_xticklabels(month_names)
for y, rle in zip([-0.5, -1.5, -2.5], [low_a, low_b, low_c]):
  dot_row(ax5, rle, y)
dots(ax5, [(d, -0.5) for d in low_a_lime], '#00ff00', 5.5)
dots(ax5, [(d, -0.5) for d in low_a_red], '#ff0000', 5.5)
dots(ax5, [(d, -1.5) for d in low_b_lime], '#00ff00', 5.5)
dots(ax5, [(d, -2.5) for d in low_c_lime], '#00ff00', 5.5)

# chart furniture on top, in pixels
top = fig.add_axes([0, 0, 1, 1], facecolor='none')
top.set_xlim(0, W)
top.set_ylim(H, 0)
top.axis('off')
top.add_patch(Rectangle((0, 0), W, 3, fc='#ebebeb', ec='none'))
top.add_patch(Rectangle((1320, 556), 77, 8, fc='white', ec='none'))
top.add_patch(Rectangle((1320, 758), 77, 8.5, fc='white', ec='none'))
top.hlines(513, 0, W, color='#e8e9ee', lw=1)
top.hlines(565, 0, W, color='#e3e4e8', lw=2)
top.hlines(656, 0, W, color='#e8e9ee', lw=1)
top.hlines(767, 0, W, color='#e8e9ee', lw=1)

# legend
top.add_patch(Circle((18, 24), 11.5, fc='#0a8f88', ec='none'))
top.scatter([18], [23], marker='D', s=45, c='white', linewidths=0)
top.text(18, 23, 'T', color='#0a8f88', fontsize=6, fontweight='bold', ha='center', va='center')
top.text(35, 24, 'Market Cap USDT Dominance, % · 1T · CRYPTOCAP', fontsize=13.5, color=TXT, va='center', ha='left')
top.add_patch(Circle((503, 23), 9, fc='#d5ecea', ec='none'))
top.add_patch(Circle((503, 23), 4.5, fc='#089981', ec='none'))
for x, t, c in [(535, 'O', TXT), (545, '4,28%', TEAL), (597, 'H', TXT), (608, '4,41%', TEAL), (657, 'L', TXT),
                (666, '4,26%', TEAL), (715, 'C', TXT), (725, '4,37%', TEAL), (775, '+0,10 (+2,30%)', TEAL)]:
  top.text(x, 24, t, color=c, fontsize=10.9, va='center', ha='left')
top.add_patch(FancyBboxPatch((7, 44), 84, 41, boxstyle='round,pad=0,rounding_size=5', fc='white', ec=RED, lw=0.9, alpha=0.92))
top.add_patch(FancyBboxPatch((137, 44), 60, 41, boxstyle='round,pad=0,rounding_size=5', fc='white', ec='#2962ff', lw=0.9, alpha=0.92))
top.text(49, 56, '4,37', color=RED, fontsize=11, fontweight='bold', ha='center', va='center')
top.text(49, 73, 'VERKAUF', color=RED, fontsize=9, ha='center', va='center')
top.text(167, 56, '4,37', color='#2962ff', fontsize=11, fontweight='bold', ha='center', va='center')
top.text(167, 73, 'KAUF', color='#2962ff', fontsize=9, ha='center', va='center')
top.text(114, 64, '0,00', color=TXT, fontsize=9, ha='center', va='center')
top.add_patch(FancyBboxPatch((5, 95), 38, 24, boxstyle='round,pad=0,rounding_size=2', fc='white', ec='#e0e3eb', lw=0.7, alpha=0.85))
top.plot([12, 16, 20], [105, 109, 105], color=TXT, lw=1)
top.text(32, 107, '3', color=TXT, fontsize=10, ha='center', va='center')

top.text(1301, 30, 'Global M2 Correlation: 0.004', color='#434651', fontsize=11.8, fontweight='semibold', ha='right', va='center', zorder=9)
top.text(1258, 60, '2025-04-06: 0.926', color='#434651', fontsize=12, fontweight='semibold', ha='right', va='center', zorder=9)

# last price flag
top.add_patch(Rectangle((1320, 312), 74, 39, fc='#00ff00', ec='none'))
top.text(1331, 321, '4,37%', color=TXT, fontsize=10.3, ha='left', va='center')
top.text(1331, 340, '08:26:40', color='#1a3a22', fontsize=10.3, ha='left', va='center')

# logo and small badges
top.add_patch(Rectangle((9, 767), 41, 12, fc='white', ec='none', alpha=0.9))
top.add_patch(Rectangle((16, 775), 32, 12, fc='white', ec='none'))
top.add_patch(Polygon([(11, 768), (28, 768), (28, 785), (18, 785), (18, 777), (11, 777)], fc='black', ec='none'))
top.add_patch(Circle((33, 772), 3.6, fc='black', ec='none'))
top.add_patch(Polygon([(38, 768), (48, 768), (37, 785), (29, 785)], fc='black', ec='none'))
top.add_patch(Circle((1245, 497), 12, fc='white', ec='#9c27b0', lw=1.4))
top.add_patch(Polygon([(1247, 489), (1240, 498), (1244, 498), (1242, 505), (1250, 495), (1246, 495)], fc='#9c27b0', ec='none'))
top.add_patch(Circle((1361, 820), 12, fc='#f0f3fa', ec='none'))
top.text(1361, 820, 'A', color='#787b86', fontsize=9.5, ha='center', va='center')

fig.savefig('out.png', dpi=100)
